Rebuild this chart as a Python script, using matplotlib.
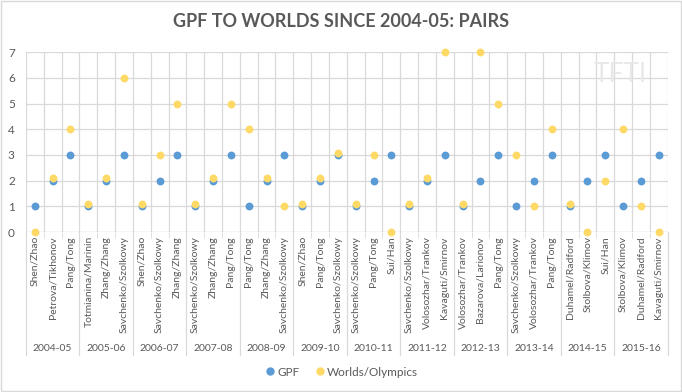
import numpy as np
import matplotlib.pyplot as plt
from matplotlib.patches import Rectangle
from matplotlib.lines import Line2D
import matplotlib.transforms as mtransforms

plt.rcParams['font.family'] = ['Lato', 'DejaVu Sans']

seasons = ["2004-05", "2005-06", "2006-07", "2007-08", "2008-09", "2009-10",
           "2010-11", "2011-12", "2012-13", "2013-14", "2014-15", "2015-16"]
pairs = ["Shen/Zhao", "Petrova/Tikhonov", "Pang/Tong",
         "Totmianina/Marinin", "Zhang/Zhang", "Savchenko/Szolkowy",
         "Shen/Zhao", "Savchenko/Szolkowy", "Zhang/Zhang",
         "Savchenko/Szolkowy", "Zhang/Zhang", "Pang/Tong",
         "Pang/Tong", "Zhang/Zhang", "Savchenko/Szolkowy",
         "Shen/Zhao", "Pang/Tong", "Savchenko/Szolkowy",
         "Savchenko/Szolkowy", "Pang/Tong", "Sui/Han",
         "Savchenko/Szolkowy", "Volosozhar/Trankov", "Kavaguti/Smirnov",
         "Volosozhar/Trankov", "Bazarova/Larionov", "Pang/Tong",
         "Savchenko/Szolkowy", "Volosozhar/Trankov", "Pang/Tong",
         "Duhamel/Radford", "Stolbova/Klimov", "Sui/Han",
         "Stolbova/Klimov", "Duhamel/Radford", "Kavaguti/Smirnov"]
gpf = [1, 2, 3, 1, 2, 3, 1, 2, 3, 1, 2, 3, 1, 2, 3, 1, 2, 3,
       1, 2, 3, 1, 2, 3, 1, 2, 3, 1, 2, 3, 1, 2, 3, 1, 2, 3]
worlds = [0, 2.1, 4, 1.1, 2.1, 6, 1.1, 3, 5, 1.1, 2.1, 5, 4, 2.1, 1, 1.1, 2.1, 3.08,
          1.1, 3, 0, 1.1, 2.1, 7, 1.1, 7, 5, 3, 1, 4, 1.1, 0, 2, 4, 1, 0]

blue = "#5B9BD5"
gold = "#FFD966"
grid_c = "#D9D9D9"
text_c = "#595959"

fig = plt.figure(figsize=(6.82, 3.92), dpi=100)
ax = fig.add_axes([0.038, 0.408, 0.941, 0.459])
x = np.arange(len(pairs))

ax.scatter(x, gpf, s=32, color=blue, zorder=3, clip_on=False, linewidths=0)
ax.scatter(x, worlds, s=32, color=gold, zorder=4, clip_on=False, linewidths=0)

ax.set_xlim(-0.5, len(pairs) - 0.5)
ax.set_ylim(0, 7)
ax.set_yticks(range(8))
ax.set_xticks(x)
ax.set_xticklabels(pairs, rotation=90, fontsize=7.5, color=text_c)
ax.set_xticks(np.arange(len(pairs) + 1) - 0.5, minor=True)
ax.tick_params(axis='x', which='major', length=0, pad=3)
ax.tick_params(axis='x', which='minor', length=4, color=grid_c)
ax.tick_params(axis='y', length=0, labelsize=8.5, labelcolor=text_c, pad=8)
ax.grid(True, axis='y', color=grid_c, lw=0.9)
ax.grid(True, axis='x', which='minor', color=grid_c, lw=0.9)
for s in ax.spines.values():
    s.set_visible(False)
ax.axhline(0, color=grid_c, lw=0.9, zorder=1)

trans = mtransforms.blended_transform_factory(ax.transData, ax.transAxes)
for i, season in enumerate(seasons):
    ax.text(3 * i + 1, -0.645, season, transform=trans, ha='center', va='center',
            fontsize=7.5, color=text_c)
for i in range(len(seasons) + 1):
    ax.add_line(Line2D([3 * i - 0.5, 3 * i - 0.5], [0, -0.685], transform=trans,
                       color=grid_c, lw=0.9, clip_on=False))

fig.text(0.5, 0.944, "GPF TO WORLDS SINCE 2004-05: PAIRS", ha='center', va='center',
         fontsize=13, fontweight='bold', color=text_c)
fig.text(0.91, 0.81, "TFTI", ha='center', va='center', fontsize=19, color="#E8E8E8")

handles = [Line2D([], [], ls='', marker='o', markersize=5, color=blue),
           Line2D([], [], ls='', marker='o', markersize=5, color=gold)]
leg = fig.legend(handles, ["GPF", "Worlds/Olympics"], loc='center', ncol=2,
                 bbox_to_anchor=(0.5, 0.051), frameon=False, fontsize=8.5,
                 handletextpad=0.1, columnspacing=1.2, handlelength=1)
for t in leg.get_texts():
    t.set_color(text_c)

fig.patches.append(Rectangle((0.001, 0.002), 0.997, 0.995, transform=fig.transFigure,
                             fill=False, edgecolor=grid_c, lw=1))

fig.savefig("out.png", dpi=100)
